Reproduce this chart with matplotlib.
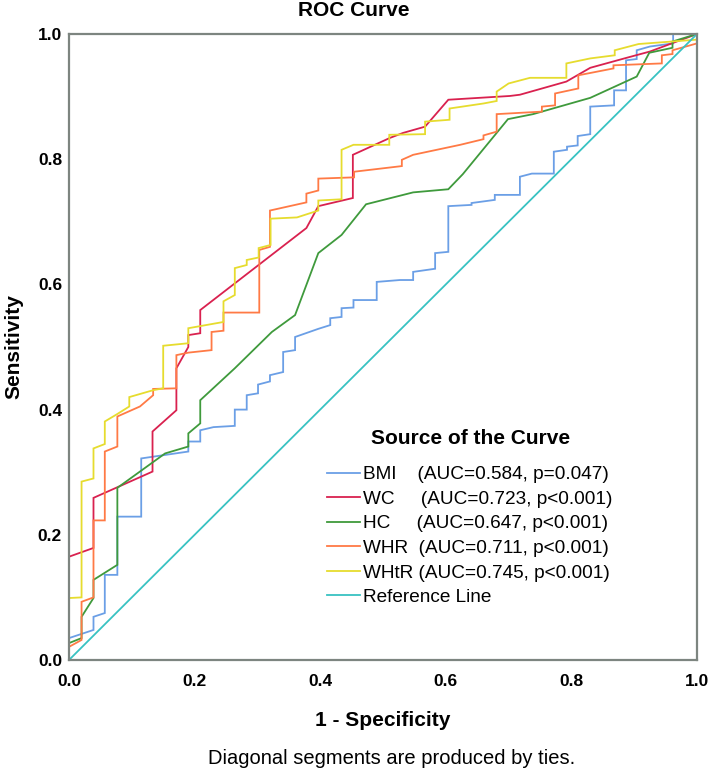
import matplotlib
matplotlib.use("Agg")
import matplotlib.pyplot as plt
from matplotlib.lines import Line2D

plt.rcParams['font.family'] = ['Liberation Sans', 'DejaVu Sans']

# ROC points (1 - specificity, sensitivity)
bmi_x = [0, 0, 0.039, 0.039, 0.057, 0.057, 0.077, 0.077, 0.115, 0.115, 0.19, 0.19, 0.209, 0.209,
         0.23, 0.264, 0.264, 0.283, 0.283, 0.301, 0.301, 0.32, 0.32, 0.341, 0.341, 0.36, 0.36,
         0.397, 0.416, 0.416, 0.434, 0.434, 0.453, 0.453, 0.49, 0.49, 0.527, 0.548, 0.548, 0.583,
         0.583, 0.604, 0.604, 0.641, 0.641, 0.678, 0.678, 0.718, 0.718, 0.737, 0.772, 0.772, 0.793,
         0.793, 0.81, 0.81, 0.83, 0.83, 0.868, 0.868, 0.887, 0.887, 0.904, 0.904, 0.925, 0.962,
         0.962, 1.0]
bmi_y = [0, 0.035, 0.048, 0.069, 0.075, 0.136, 0.136, 0.229, 0.229, 0.322, 0.333, 0.349, 0.349, 0.367,
         0.372, 0.374, 0.40, 0.40, 0.423, 0.426, 0.44, 0.445, 0.455, 0.46, 0.492, 0.495, 0.516,
         0.529, 0.535, 0.546, 0.548, 0.562, 0.563, 0.575, 0.575, 0.604, 0.607, 0.607, 0.62, 0.625,
         0.65, 0.652, 0.725, 0.727, 0.73, 0.735, 0.743, 0.743, 0.772, 0.777, 0.777, 0.812, 0.815,
         0.82, 0.822, 0.837, 0.84, 0.884, 0.886, 0.91, 0.91, 0.958, 0.96, 0.974, 0.98, 0.985,
         1.0, 1.0]

wc_x = [0, 0, 0.039, 0.039, 0.133, 0.133, 0.171, 0.171, 0.19, 0.19, 0.209, 0.209, 0.378, 0.397,
        0.452, 0.452, 0.511, 0.532, 0.567, 0.604, 0.702, 0.718, 0.792, 0.83, 0.888, 0.925, 1.0]
wc_y = [0, 0.165, 0.179, 0.259, 0.301, 0.365, 0.399, 0.466, 0.5, 0.519, 0.522, 0.559, 0.69, 0.725,
        0.738, 0.807, 0.834, 0.842, 0.852, 0.895, 0.901, 0.903, 0.924, 0.946, 0.962, 0.972, 1.0]

hc_x = [0, 0, 0.02, 0.02, 0.039, 0.039, 0.077, 0.077, 0.153, 0.19, 0.19, 0.209, 0.209, 0.264,
        0.323, 0.36, 0.397, 0.434, 0.473, 0.548, 0.604, 0.627, 0.699, 0.739, 0.83, 0.904, 0.924,
        0.961, 0.961, 1.0]
hc_y = [0, 0.027, 0.035, 0.069, 0.099, 0.128, 0.152, 0.275, 0.33, 0.341, 0.362, 0.378, 0.415, 0.466,
        0.524, 0.551, 0.65, 0.679, 0.728, 0.747, 0.752, 0.776, 0.864, 0.872, 0.898, 0.932, 0.97,
        0.978, 0.988, 1.0]

whr_x = [0, 0, 0.02, 0.02, 0.039, 0.039, 0.057, 0.057, 0.077, 0.077, 0.113, 0.134, 0.134, 0.171,
         0.171, 0.19, 0.227, 0.227, 0.246, 0.246, 0.303, 0.303, 0.32, 0.32, 0.378, 0.378, 0.397,
         0.397, 0.454, 0.454, 0.53, 0.53, 0.548, 0.623, 0.66, 0.66, 0.681, 0.681, 0.753, 0.753,
         0.774, 0.774, 0.811, 0.811, 0.867, 0.867, 0.944, 0.944, 0.961, 0.961, 1.0, 1.0]
whr_y = [0, 0.021, 0.032, 0.093, 0.1, 0.223, 0.223, 0.333, 0.341, 0.389, 0.405, 0.423, 0.433, 0.434,
         0.487, 0.491, 0.495, 0.524, 0.526, 0.555, 0.555, 0.655, 0.66, 0.718, 0.731, 0.745, 0.75,
         0.769, 0.771, 0.78, 0.789, 0.799, 0.807, 0.823, 0.832, 0.838, 0.844, 0.872, 0.876, 0.884,
         0.886, 0.905, 0.913, 0.934, 0.945, 0.95, 0.953, 0.966, 0.968, 0.974, 0.985, 1.0]

whtr_x = [0, 0, 0.02, 0.02, 0.039, 0.039, 0.057, 0.057, 0.077, 0.096, 0.096, 0.134, 0.15, 0.15,
          0.19, 0.19, 0.246, 0.246, 0.264, 0.264, 0.283, 0.283, 0.302, 0.302, 0.321, 0.321, 0.363,
          0.397, 0.397, 0.434, 0.434, 0.453, 0.51, 0.51, 0.567, 0.567, 0.606, 0.606, 0.66, 0.681,
          0.681, 0.7, 0.734, 0.792, 0.792, 0.83, 0.869, 0.869, 0.907, 1.0, 1.0]
whtr_y = [0, 0.099, 0.1, 0.285, 0.29, 0.338, 0.345, 0.381, 0.393, 0.405, 0.42, 0.431, 0.434, 0.502,
          0.506, 0.53, 0.54, 0.573, 0.583, 0.626, 0.631, 0.639, 0.643, 0.658, 0.663, 0.705, 0.707,
          0.718, 0.734, 0.736, 0.815, 0.823, 0.823, 0.839, 0.84, 0.86, 0.863, 0.881, 0.889, 0.893,
          0.908, 0.921, 0.93, 0.93, 0.953, 0.961, 0.966, 0.974, 0.984, 0.991, 1.0]

ref_x = [0, 1]
ref_y = [0, 1]

names = ["BMI    (AUC=0.584, p=0.047)", "WC     (AUC=0.723, p<0.001)", "HC     (AUC=0.647, p<0.001)",
         "WHR  (AUC=0.711, p<0.001)", "WHtR (AUC=0.745, p<0.001)", "Reference Line"]
colors = ["#6b9fe6", "#d9214f", "#3f9a3c", "#ff7a45", "#e6dc2e", "#38c2c2"]
ticks = [0.0, 0.2, 0.4, 0.6, 0.8, 1.0]

W, H = 708, 773
fig = plt.figure(figsize=(W / 100, H / 100), dpi=100)
ax = fig.add_axes([69 / W, (H - 660) / H, 628 / W, 626 / H])

curves = [(bmi_x, bmi_y), (wc_x, wc_y), (hc_x, hc_y), (whr_x, whr_y), (whtr_x, whtr_y), (ref_x, ref_y)]
for (xs, ys), c in zip(curves, colors):
    ax.plot(xs, ys, color=c, lw=1.3, solid_joinstyle="miter")

ax.set_xlim(0, 1)
ax.set_ylim(0, 1)
ax.set_xticks(ticks)
ax.set_yticks(ticks)
ax.set_xticklabels([f"{t:.1f}" for t in ticks], fontsize=12.5, fontweight="bold")
ax.set_yticklabels([f"{t:.1f}" for t in ticks], fontsize=12.5, fontweight="bold")
ax.tick_params(length=0)
ax.tick_params(axis="x", pad=10)
ax.tick_params(axis="y", pad=5)
for s in ax.spines.values():
    s.set_color("#7d8580")
    s.set_linewidth(1.6)

def px(x, y):
    return x / W, (H - y) / H

fig.text(*px(354, 11), "ROC Curve", ha="center", va="center", fontsize=15, fontweight="bold")
fig.text(*px(383, 720), "1 - Specificity", ha="center", va="center", fontsize=15, fontweight="bold")
fig.text(*px(14, 347), "Sensitivity", ha="center", va="center", rotation=90, fontsize=15,
         fontweight="bold")
fig.text(*px(392, 759), "Diagonal segments are produced by ties.", ha="center", va="center",
         fontsize=14.5)

# legend
fig.text(*px(471, 439), "Source of the Curve", ha="center", va="center", fontsize=15,
         fontweight="bold")
handles = [Line2D([], [], color=c, lw=1.3) for c in colors]
ax.legend(handles, names, loc="upper left", bbox_to_anchor=px(327, 466),
          bbox_transform=fig.transFigure, frameon=False, fontsize=13.7, borderpad=0,
          borderaxespad=0, handlelength=1.74, handletextpad=0.16, labelspacing=0.38)

fig.savefig("out.png", dpi=100)
